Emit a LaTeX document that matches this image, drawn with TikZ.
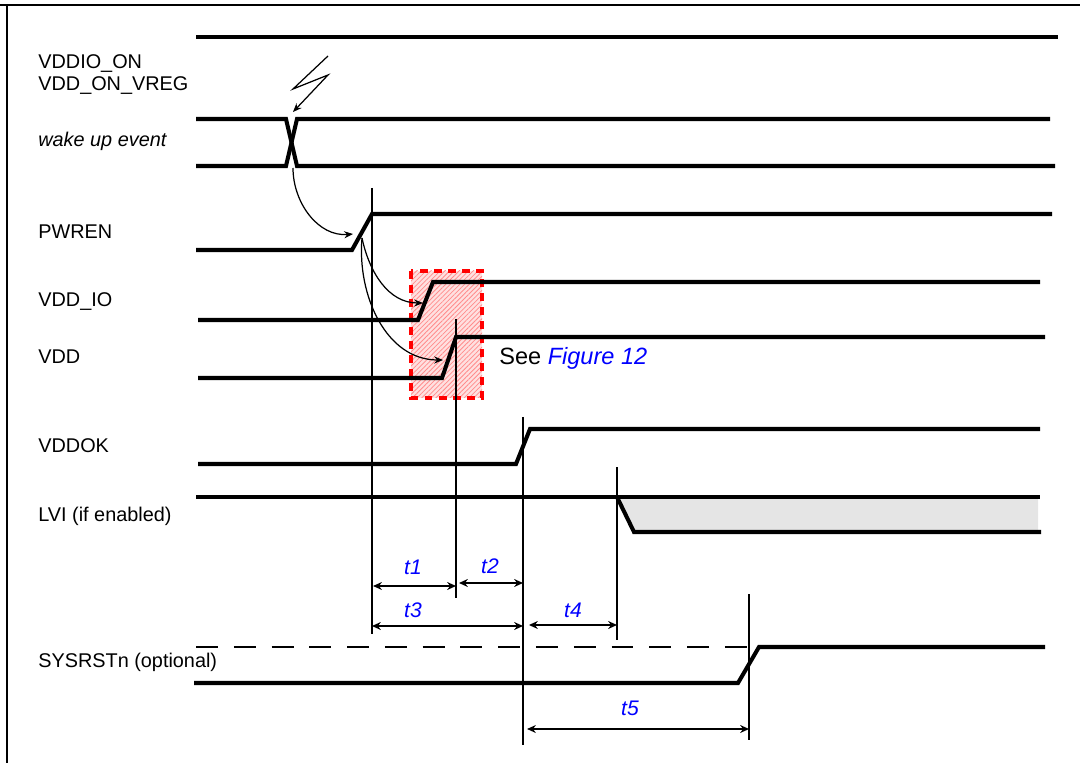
\documentclass[tikz,border=0pt]{standalone}
\usepackage{fontspec}
\setmainfont{Liberation Sans}
\usetikzlibrary{arrows.meta,patterns.meta}

\begin{document}
\begin{tikzpicture}[x=0.02cm,y=-0.02cm,
  sig/.style={line width=2.3pt},
  vbar/.style={line width=1.1pt},
  dim/.style={{Stealth[length=5pt,width=4.5pt]}-{Stealth[length=5pt,width=4.5pt]},line width=1.1pt},
  cause/.style={-{Stealth[length=5pt,width=4pt]},line width=0.7pt},
  lab/.style={anchor=base west,inner sep=0pt,font=\fontsize{11.3}{13}\selectfont},
  tlab/.style={inner sep=0pt,text=blue,font=\fontsize{12}{14}\selectfont\itshape}]
\useasboundingbox (0,0) rectangle (1082,763);
\draw[line width=1.2pt] (0,5) -- (1080,5) (7,5) -- (7,763);

\node[lab] (vddion) at (38,69) {VDDIO\_ON};
\node[lab] (vddvreg) at (38,91) {VDD\_ON\_VREG};
\node[lab,font=\fontsize{11.3}{13}\selectfont\itshape] (wake) at (38,147) {wake up event};
\node[lab] (pwren) at (38,239) {PWREN};
\node[lab] (vddio) at (38,307) {VDD\_IO};
\node[lab] (vdd) at (38,364) {VDD};
\node[lab] (vddok) at (38,453) {VDDOK};
\node[lab] (lvi) at (38,521) {LVI (if enabled)};
\node[lab] (sysrst) at (38,667) {SYSRSTn (optional)};

\fill[red!12] (411,271) rectangle (482,398);
\fill[pattern={Lines[angle=45,distance=1.9pt,line width=0.45pt]},pattern color=red!45] (411,271) rectangle (482,398);
\draw[red,line width=1.9pt,dash pattern=on 4.5pt off 3.5pt] (411,271) rectangle (482,398);

\draw[sig] (196,37) -- (1058,37);
\draw[sig] (196,119) -- (286,119) -- (297,166) -- (1055,166);
\draw[sig] (196,166) -- (286,166) -- (297,119) -- (1050,119);
\draw[sig] (196,250) -- (352,250) -- (372,214) -- (1052,214);
\draw[sig] (198,320) -- (418,320) -- (433,282) -- (1040,282);
\draw[sig] (198,378) -- (442,378) -- (456,337) -- (1045,337);
\draw[sig] (198,464) -- (516,464) -- (530,429) -- (1040,429);
\fill[black!10] (617,497) -- (634,532) -- (1038,532) -- (1038,497) -- cycle;
\draw[sig] (196,497) -- (1040,497);
\draw[sig] (617,497) -- (634,532) -- (1041,532);
\draw[line width=1.2pt,dash pattern=on 12.5pt off 9pt] (196,647) -- (758,647);
\draw[sig] (194,683) -- (738,683) -- (759,647) -- (1045,647);

\node[anchor=base west,inner sep=0pt,font=\fontsize{13.4}{15}\selectfont] (see) at (499,365) {See \textcolor{blue}{\itshape Figure 12}};

\coordinate (bolt) at (328,56);
\coordinate (xbot) at (293,168);
\coordinate (xtop) at (293,112);
\coordinate (pwedge) at (362,238);
\draw[cause] (bolt) -- (293,89) -- (328,75) -- (xtop);
\draw[cause] (xbot) to [out=-90,in=185] (353,234);
\draw[cause] (pwedge) to [out=-78,in=180] (423,303);
\draw[cause] (pwedge) to [out=-95,in=180] (443,360);

\foreach \n/\x/\a/\b in {m1/372/188/634,m2/456/319/598,m3/523/417/745,m4/617/467/640,m5/749/594/740}
  \draw[vbar] (\x,\a) -- (\x,\b) coordinate (\n);

\draw[dim,shorten <=0.6pt] (m1 |- 0,586) -- (m2 |- 0,586);
\draw[dim,shorten <=1.7pt] (m2 |- 0,583) -- (m3 |- 0,583);
\draw[dim] (m1 |- 0,626) -- (m3 |- 0,626);
\draw[dim,shorten <=3.4pt] (m3 |- 0,625) -- (m4 |- 0,625);
\draw[dim,shorten <=2.3pt] (m3 |- 0,729) -- (m5 |- 0,729);
\node[tlab] (t1) at (413,567) {t1};
\node[tlab] (t2) at (490,566) {t2};
\node[tlab] (t3) at (413,610) {t3};
\node[tlab] (t4) at (573,610) {t4};
\node[tlab] (t5) at (630,708) {t5};
\end{tikzpicture}
\end{document}
